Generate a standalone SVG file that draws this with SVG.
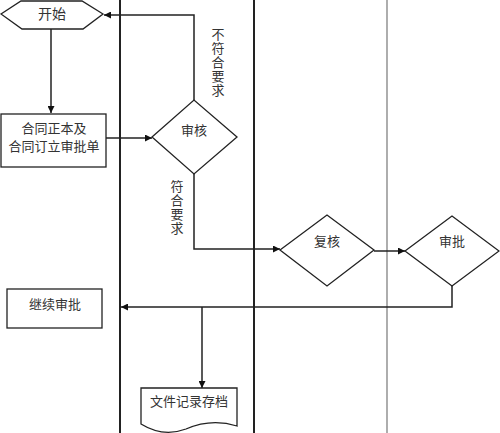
<svg xmlns="http://www.w3.org/2000/svg" width="500" height="433" viewBox="0 0 500 433">
<style>
.shape{fill:#fff;stroke:#222;stroke-width:1.3}
.lane{stroke:#222;stroke-width:2}
.lane2{stroke:#777;stroke-width:1.2}
.conn{fill:none;stroke:#222;stroke-width:1.5}
text{font-family:"Liberation Serif","Noto Sans CJK SC",serif;font-size:13px;fill:#333;text-anchor:middle;dominant-baseline:central}
</style>
<defs>
<marker id="arr" viewBox="0 0 10 10" refX="10" refY="5" markerWidth="7" markerHeight="7" markerUnits="userSpaceOnUse" orient="auto">
<path d="M0,0 L10,5 L0,10 Z" fill="#111"/>
</marker>
</defs>
<rect width="500" height="433" fill="#fff"/>
<g id="lanes">
<line class="lane" x1="120" y1="0" x2="120" y2="433"/>
<line class="lane" x1="254" y1="0" x2="254" y2="433"/>
<line class="lane2" x1="387" y1="0" x2="387" y2="433"/>
</g>
<g id="connectors">
<path class="conn" d="M51,29 V113" marker-end="url(#arr)"/>
<path class="conn" d="M106,138 H152" marker-end="url(#arr)"/>
<path class="conn" d="M194,100 V15 H104" marker-end="url(#arr)"/>
<path class="conn" d="M194,174 V249 H280" marker-end="url(#arr)"/>
<path class="conn" d="M374,251 H405" marker-end="url(#arr)"/>
<path class="conn" d="M452,286 V307 H121" marker-end="url(#arr)"/>
<path class="conn" d="M202,307 V388" marker-end="url(#arr)"/>
</g>
<g id="labels">
<text x="218" y="34">不</text>
<text x="218" y="48">符</text>
<text x="218" y="62">合</text>
<text x="218" y="76">要</text>
<text x="218" y="90">求</text>
<text x="177" y="186">符</text>
<text x="177" y="200">合</text>
<text x="177" y="214">要</text>
<text x="177" y="228">求</text>
</g>
<g id="start">
<polygon class="shape" points="1,14 21,1 82,1 103,14 83,29 22,29"/>
<text x="52" y="14" style="font-size:14px">开始</text>
</g>
<g id="contract">
<rect class="shape" x="1" y="114" width="105" height="53"/>
<text x="54" y="128">合同正本及</text>
<text x="54" y="146">合同订立审批单</text>
</g>
<g id="review">
<polygon class="shape" points="152,137 194,100 237,137 194,174"/>
<text x="194" y="130">审核</text>
</g>
<g id="recheck">
<polygon class="shape" points="280,250 327,215 374,250 327,286"/>
<text x="327" y="241">复核</text>
</g>
<g id="approve">
<polygon class="shape" points="405,251 452,216 499,251 452,286"/>
<text x="452" y="241">审批</text>
</g>
<g id="continue">
<rect class="shape" x="7" y="289" width="95" height="39"/>
<text x="55" y="304">继续审批</text>
</g>
<g id="archive">
<path class="shape" d="M141,388 H237 V426 C218,420 202,422 186,429 C170,435 154,432 141,424 Z"/>
<text x="189" y="401">文件记录存档</text>
</g>
</svg>
